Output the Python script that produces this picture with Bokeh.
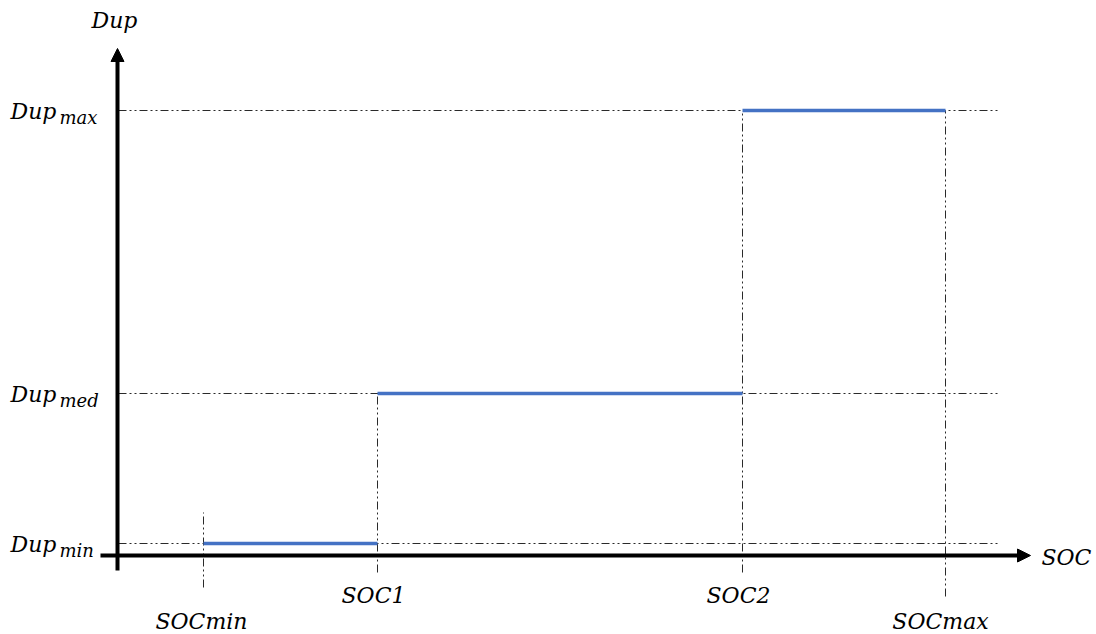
from bokeh.plotting import figure
from bokeh.models import Range1d, Arrow, NormalHead
from bokeh.core.properties import value
from bokeh.embed import file_html
from bokeh.resources import INLINE

# ---- data ----
soc_names = ["SOCmin", "SOC1", "SOC2", "SOCmax"]
soc_values = [86, 260, 625, 828]          # x positions of SOC thresholds
dup_names = ["min", "med", "max"]         # subscripts of Dup levels
dup_levels = [12, 162, 445]               # Dup level values
x_title = "SOC"
y_title = "Dup"

FONT = value("DejaVu Serif")
BLUE = "#4472C4"
GUIDE = "#2a2a2a"
DASH = "8 3 2 3 2 3"

p = figure(width=1096, height=634, output_backend="svg", toolbar_location=None,
           x_range=Range1d(-117, 979), y_range=Range1d(-79, 555),
           min_border=0, outline_line_color=None)
p.axis.visible = False
p.grid.visible = False

x_end = 883
# horizontal dash-dot guides
for lvl in dup_levels:
    p.line([1, x_end], [lvl, lvl], line_color=GUIDE, line_width=1, line_dash=DASH)

# vertical dash-dot guides
v_tops = [dup_levels[0] + 31, dup_levels[1], dup_levels[2], dup_levels[2]]
v_bots = [-32, -17, -17, -41]
for xv, top, bot in zip(soc_values, v_tops, v_bots):
    p.line([xv, xv], [bot, top], line_color=GUIDE, line_width=1, line_dash=DASH)

# step segments
for i, lvl in enumerate(dup_levels):
    p.line([soc_values[i], soc_values[i + 1]], [lvl, lvl], line_color=BLUE, line_width=3.5)

# axes with arrows
p.add_layout(Arrow(end=NormalHead(size=13, fill_color="black", line_color="black"),
                   x_start=-17, y_start=0, x_end=913, y_end=0,
                   line_width=4, line_color="black"))
p.add_layout(Arrow(end=NormalHead(size=13, fill_color="black", line_color="black"),
                   x_start=0, y_start=-15, x_end=0, y_end=507,
                   line_width=4, line_color="black"))

# axis titles
p.text(x=[924], y=[-2], text=[x_title], text_font=FONT, text_font_style="italic",
       text_font_size="22px", text_align="left", text_baseline="middle", text_color="black")
p.text(x=[-3], y=[535], text=[y_title], text_font=FONT, text_font_style="italic",
       text_font_size="22px", text_align="center", text_baseline="middle", text_color="black")

# SOC tick labels
label_y = [-66, -40, -40, -66]
label_x = [soc_values[0] - 2, soc_values[1] - 4, soc_values[2] - 4, soc_values[3] - 5]
p.text(x=label_x, y=label_y, text=soc_names, text_font=FONT, text_font_style="italic",
       text_font_size="22px", text_align="center", text_baseline="middle", text_color="black")

# Dup level labels: "Dup" + subscript
lab_y = [lvl - 1 for lvl in dup_levels]
p.text(x=[-107] * 3, y=lab_y, text=["Dup"] * 3, text_font=FONT, text_font_style="italic",
       text_font_size="22px", text_align="left", text_baseline="middle", text_color="black")
p.text(x=[-58] * 3, y=lab_y, text=dup_names, text_font=FONT, text_font_style="italic",
       text_font_size="18px", text_align="left", text_baseline="middle", text_color="black",
       y_offset=6)

open("out.html", "w").write(file_html(p, INLINE))
